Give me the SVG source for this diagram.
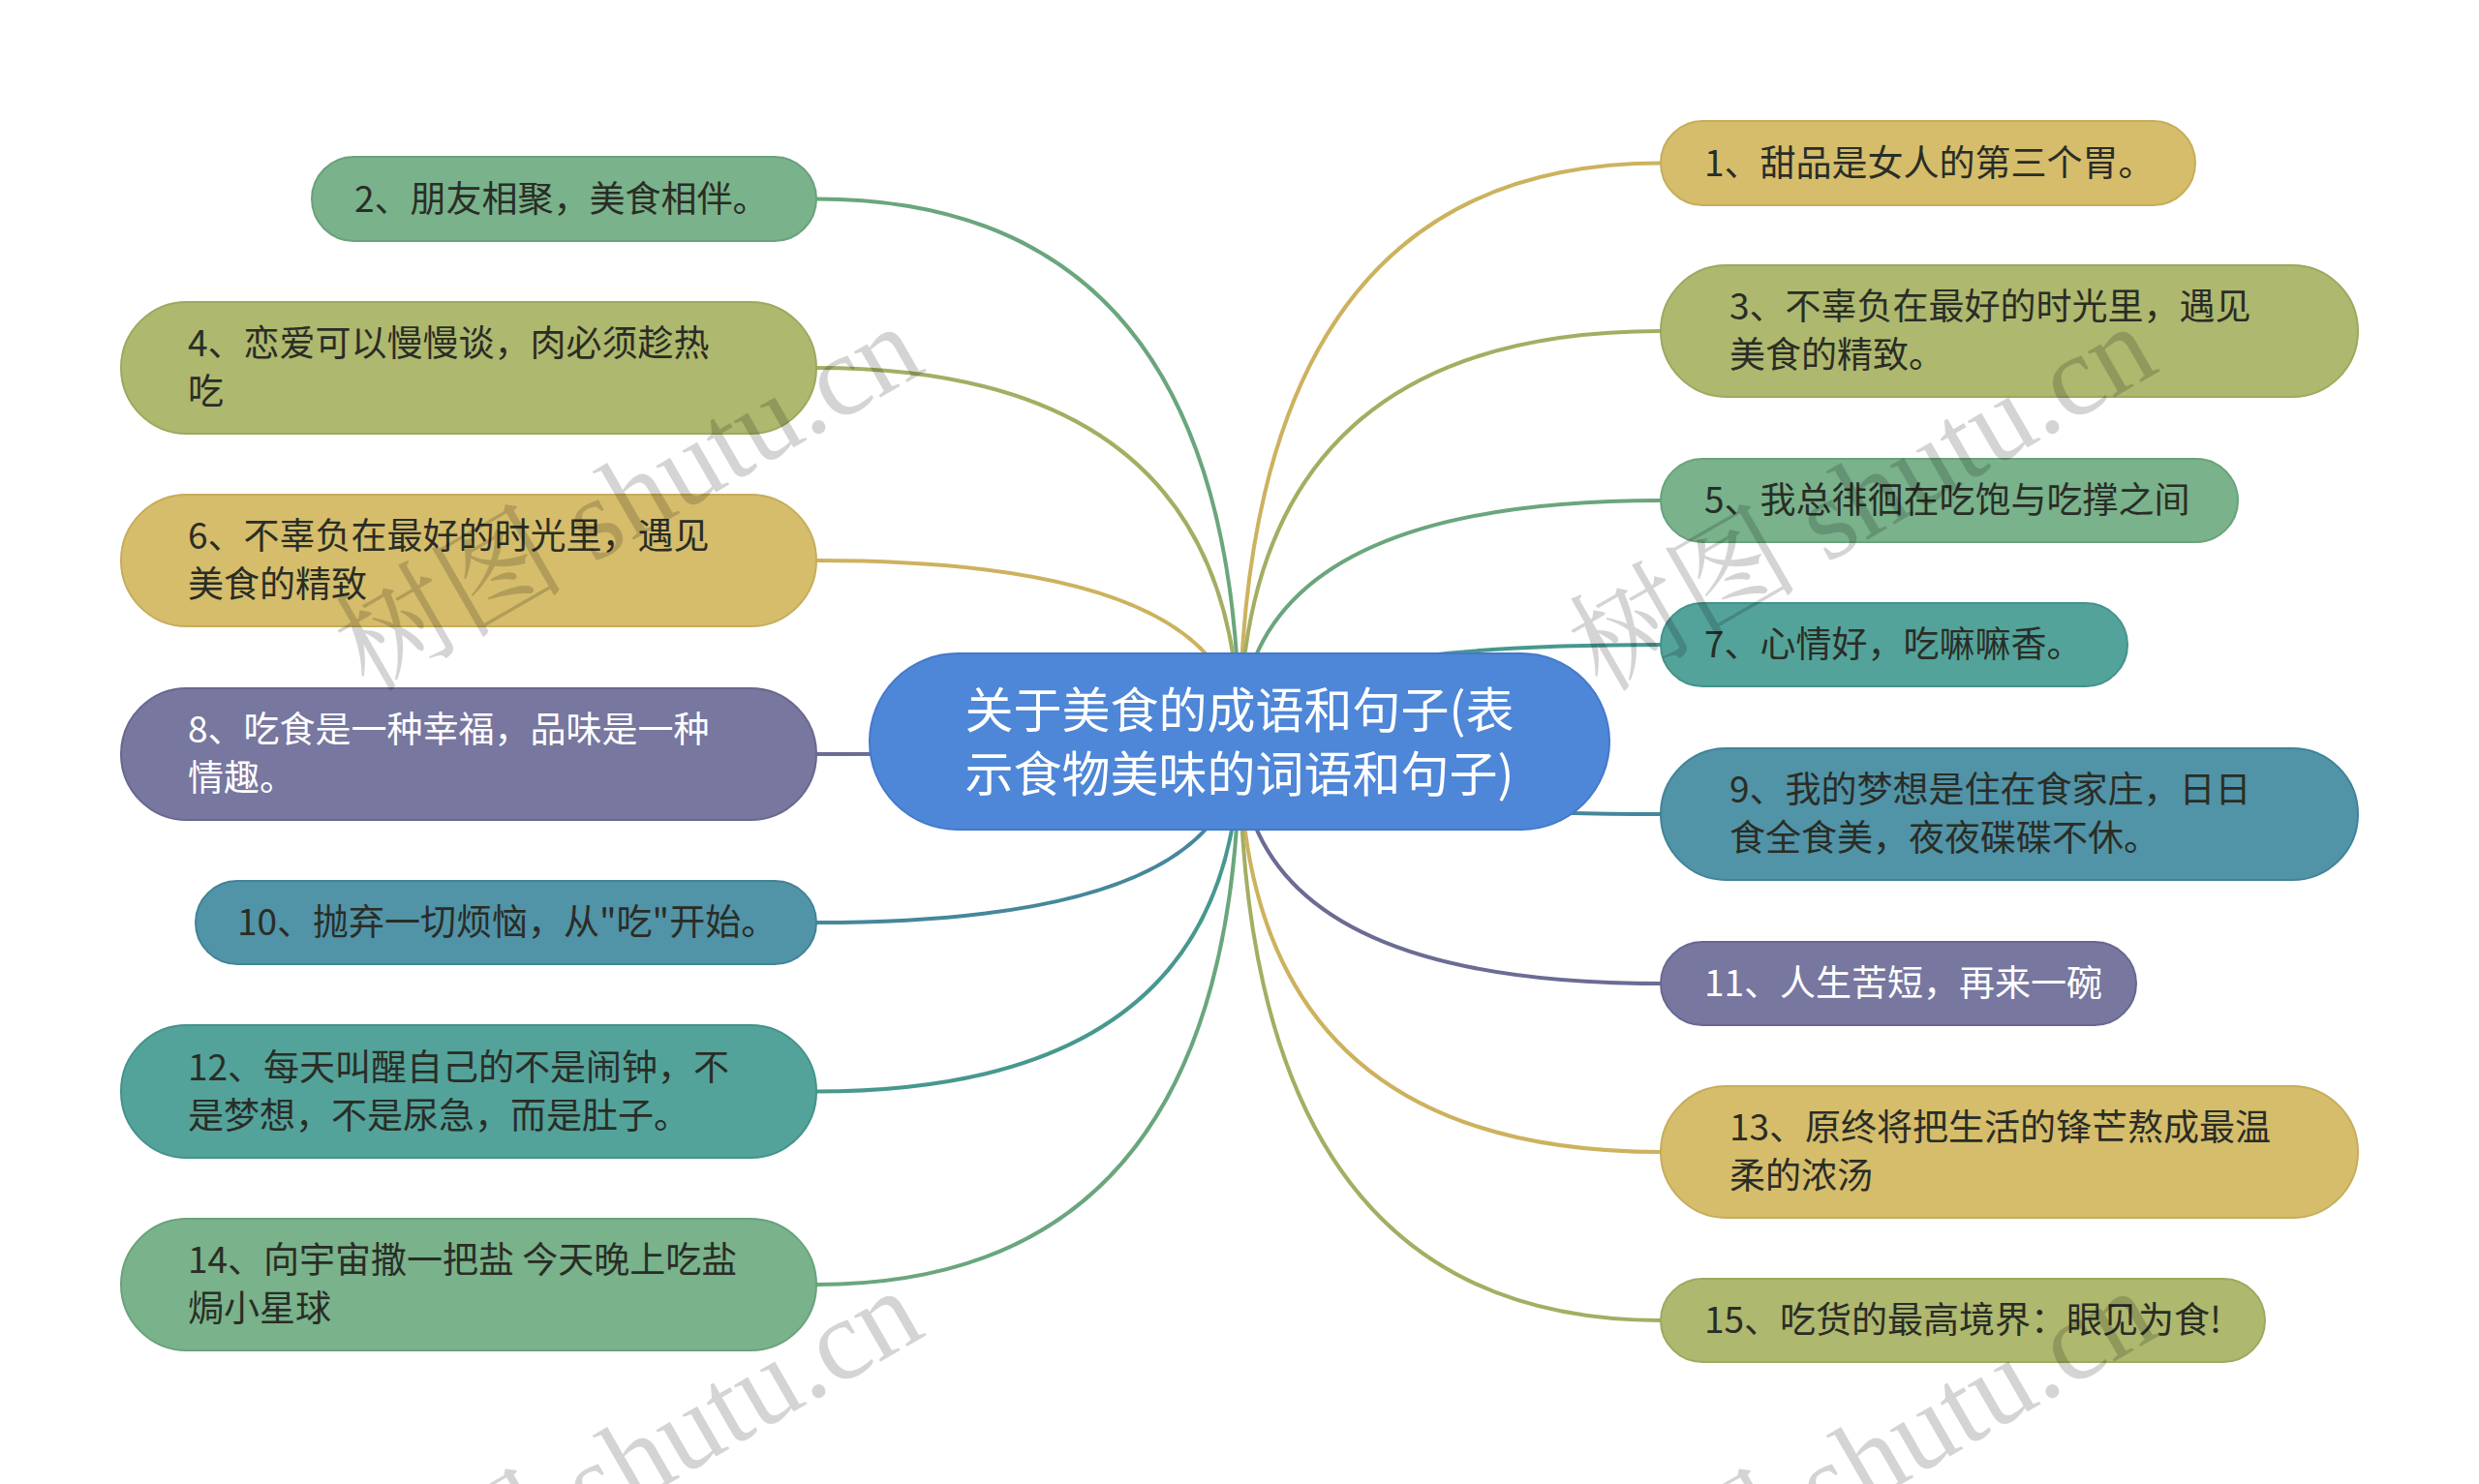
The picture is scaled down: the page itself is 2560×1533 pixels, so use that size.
<svg xmlns="http://www.w3.org/2000/svg" width="2560" height="1533" viewBox="0 0 2560 1533">
<style>
.t{font-family:"Noto Sans CJK SC","Noto Sans",sans-serif;font-size:37px;fill:#2a2d26}
.w{fill:#ffffff}
.c{font-family:"Noto Sans CJK SC","Noto Sans",sans-serif;font-size:50px;fill:#ffffff;text-anchor:middle}
.wm{font-family:"Liberation Serif","Noto Serif CJK SC","Noto Sans CJK SC",serif;font-size:119px;fill:#000000;fill-opacity:0.17}
.yel{fill:#d5bd6b;stroke:#c5ad5b;stroke-width:2}
.oli{fill:#aeb86e;stroke:#9ea85e;stroke-width:2}
.grn{fill:#79b28b;stroke:#69a27b;stroke-width:2}
.tea{fill:#53a39a;stroke:#43938a;stroke-width:2}
.tbl{fill:#5193a7;stroke:#418397;stroke-width:2}
.pur{fill:#77779f;stroke:#67678f;stroke-width:2}
#links path{fill:none;stroke-width:4}
</style>
<rect width="2560" height="1533" fill="#ffffff"/>
<g id="links">
<path d="M1280 766 Q1280 205.5 843 205.5" stroke="#6aa67d"/>
<path d="M1280 766 Q1280 380 843 380" stroke="#a3ae62"/>
<path d="M1280 766 Q1280 579 843 579" stroke="#cdb25e"/>
<path d="M1280 766 Q1280 779 843 779" stroke="#6b6b94"/>
<path d="M1280 766 Q1280 953 843 953" stroke="#45879b"/>
<path d="M1280 766 Q1280 1127.5 843 1127.5" stroke="#47988e"/>
<path d="M1280 766 Q1280 1327 843 1327" stroke="#6aa67d"/>
<path d="M1280 766 Q1280 168.5 1715 168.5" stroke="#cdb25e"/>
<path d="M1280 766 Q1280 342 1715 342" stroke="#a3ae62"/>
<path d="M1280 766 Q1280 517 1715 517" stroke="#6aa67d"/>
<path d="M1280 766 Q1280 666 1715 666" stroke="#47988e"/>
<path d="M1280 766 Q1280 841 1715 841" stroke="#45879b"/>
<path d="M1280 766 Q1280 1016 1715 1016" stroke="#6b6b94"/>
<path d="M1280 766 Q1280 1190 1715 1190" stroke="#cdb25e"/>
<path d="M1280 766 Q1280 1364 1715 1364" stroke="#a3ae62"/>
</g>
<g id="center">
<rect x="898" y="675" width="764" height="182" rx="91" fill="#4e86d8" stroke="#4479c9" stroke-width="2"/>
<text class="c" x="1280" y="752">关于美食的成语和句子(表</text>
<text class="c" x="1280" y="818">示食物美味的词语和句子)</text>
</g>
<g id="n2"><rect class="grn" x="322" y="162" width="521" height="87" rx="43.5"/><text class="t" x="366" y="219">2、朋友相聚，美食相伴。</text></g>
<g id="n4"><rect class="oli" x="125" y="312" width="718" height="136" rx="68"/><text class="t" x="194" y="368">4、恋爱可以慢慢谈，肉必须趁热</text><text class="t" x="194" y="418">吃</text></g>
<g id="n6"><rect class="yel" x="125" y="511" width="718" height="136" rx="68"/><text class="t" x="194" y="567">6、不辜负在最好的时光里，遇见</text><text class="t" x="194" y="617">美食的精致</text></g>
<g id="n8"><rect class="pur" x="125" y="711" width="718" height="136" rx="68"/><text class="t w" x="194" y="767">8、吃食是一种幸福，品味是一种</text><text class="t w" x="194" y="817">情趣。</text></g>
<g id="n10"><rect class="tbl" x="202" y="910" width="641" height="86" rx="43"/><text class="t" x="245" y="966">10、抛弃一切烦恼，从"吃"开始。</text></g>
<g id="n12"><rect class="tea" x="125" y="1059" width="718" height="137" rx="68"/><text class="t" x="194" y="1116">12、每天叫醒自己的不是闹钟，不</text><text class="t" x="194" y="1166">是梦想，不是尿急，而是肚子。</text></g>
<g id="n14"><rect class="grn" x="125" y="1259" width="718" height="136" rx="68"/><text class="t" x="194" y="1315">14、向宇宙撒一把盐 今天晚上吃盐</text><text class="t" x="194" y="1365">焗小星球</text></g>
<g id="n1"><rect class="yel" x="1715" y="125" width="552" height="87" rx="43.5"/><text class="t" x="1760" y="182">1、甜品是女人的第三个胃。</text></g>
<g id="n3"><rect class="oli" x="1715" y="274" width="720" height="136" rx="68"/><text class="t" x="1786" y="330">3、不辜负在最好的时光里，遇见</text><text class="t" x="1786" y="380">美食的精致。</text></g>
<g id="n5"><rect class="grn" x="1715" y="474" width="596" height="86" rx="43"/><text class="t" x="1760" y="530">5、我总徘徊在吃饱与吃撑之间</text></g>
<g id="n7"><rect class="tea" x="1715" y="623" width="482" height="86" rx="43"/><text class="t" x="1760" y="679">7、心情好，吃嘛嘛香。</text></g>
<g id="n9"><rect class="tbl" x="1715" y="773" width="720" height="136" rx="68"/><text class="t" x="1786" y="829">9、我的梦想是住在食家庄，日日</text><text class="t" x="1786" y="879">食全食美，夜夜碟碟不休。</text></g>
<g id="n11"><rect class="pur" x="1715" y="973" width="491" height="86" rx="43"/><text class="t w" x="1760" y="1029">11、人生苦短，再来一碗</text></g>
<g id="n13"><rect class="yel" x="1715" y="1122" width="720" height="136" rx="68"/><text class="t" x="1786" y="1178">13、原终将把生活的锋芒熬成最温</text><text class="t" x="1786" y="1228">柔的浓汤</text></g>
<g id="n15"><rect class="oli" x="1715" y="1321" width="624" height="86" rx="43"/><text class="t" x="1760" y="1377">15、吃货的最高境界：眼见为食!</text></g>
<g id="watermarks">
<text class="wm" transform="translate(380 716) rotate(-30)">树图 shutu.cn</text>
<text class="wm" transform="translate(1654 716) rotate(-30)">树图 shutu.cn</text>
<text class="wm" transform="translate(380 1712) rotate(-30)">树图 shutu.cn</text>
<text class="wm" transform="translate(1654 1712) rotate(-30)">树图 shutu.cn</text>
</g>
</svg>
